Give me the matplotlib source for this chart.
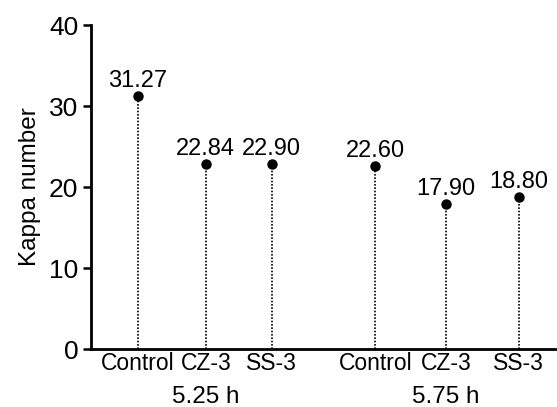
import matplotlib
matplotlib.use("Agg")
import matplotlib.pyplot as plt

plt.rcParams['font.family'] = ['Liberation Sans', 'DejaVu Sans']

# data
samples = ['Control', 'CZ-3', 'SS-3', 'Control', 'CZ-3', 'SS-3']
kappa = [31.27, 22.84, 22.90, 22.60, 17.90, 18.80]
labels = ['31.27', '22.84', '22.90', '22.60', '17.90', '18.80']
groups = ['5.25 h', '5.75 h']

xpos = [0, 1, 1.97, 3.49, 4.53, 5.6]

fig = plt.figure(figsize=(5.57, 4.07), dpi=100)
ax = fig.add_axes([0.163, 0.1425, 0.837, 0.796])

for x, k, lab in zip(xpos, kappa, labels):
    ax.plot([x, x], [0, k], color='black', linestyle=(0, (1, 1)), linewidth=1.2)
    ax.plot(x, k, 'o', color='black', markersize=6.5)
    ax.text(x, k + 1.1, lab, ha='center', va='baseline', fontsize=17)

ax.set_xlim(-0.69, 6.16)
ax.set_ylim(0, 40)
ax.set_yticks([0, 10, 20, 30, 40])
ax.tick_params(axis='y', labelsize=19, width=1.8, length=6, direction='out', pad=3)
ax.set_xticks(xpos)
ax.set_xticklabels(samples, fontsize=16.5)
ax.tick_params(axis='x', length=0, pad=2)
ax.set_ylabel('Kappa number', fontsize=17.5, labelpad=6)

for side in ['top', 'right']:
    ax.spines[side].set_visible(False)
ax.spines['left'].set_linewidth(2)
ax.spines['bottom'].set_linewidth(2)

ax.text(1.0, -0.168, groups[0], transform=ax.get_xaxis_transform(), ha='center', va='baseline', fontsize=17.5)
ax.text(4.53, -0.168, groups[1], transform=ax.get_xaxis_transform(), ha='center', va='baseline', fontsize=17.5)

fig.savefig('out.png', dpi=100)
